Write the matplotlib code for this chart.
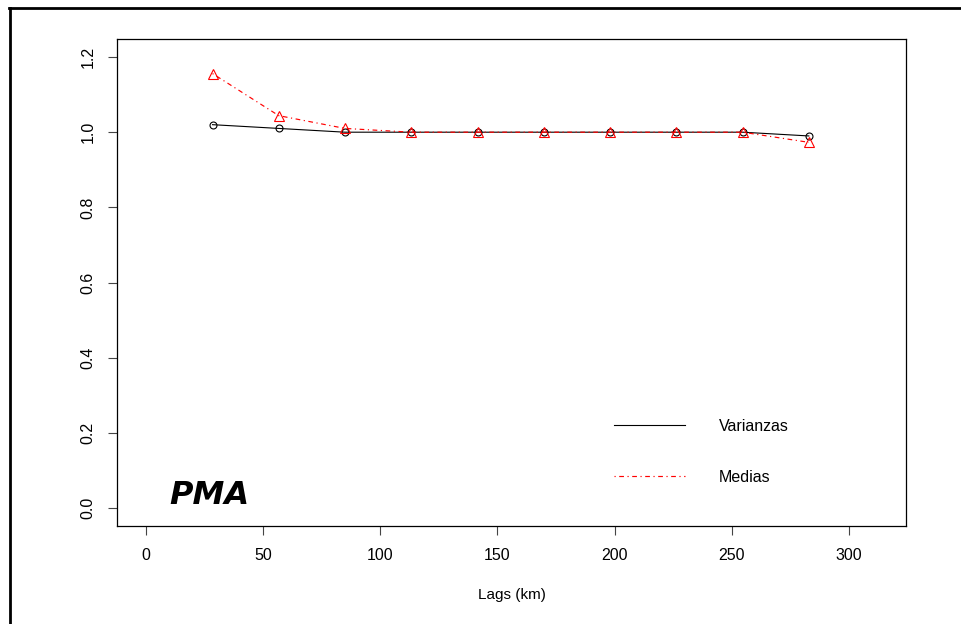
import matplotlib.pyplot as plt
from matplotlib.lines import Line2D

plt.rcParams['font.family'] = ['Liberation Sans', 'DejaVu Sans']

# semivariogram-like ratios per lag
lags = [28.3, 56.6, 84.9, 113.2, 141.5, 169.8, 198.1, 226.4, 254.7, 283.0]
varianzas = [1.020, 1.010, 1.000, 1.000, 1.000, 1.000, 1.000, 1.000, 1.000, 0.990]
medias = [1.156, 1.044, 1.010, 1.000, 1.000, 1.000, 1.000, 1.000, 1.000, 0.973]
xticks = [0, 50, 100, 150, 200, 250, 300]
yticks = [0.0, 0.2, 0.4, 0.6, 0.8, 1.0, 1.2]

W, H = 961, 624
fig = plt.figure(figsize=(W / 100, H / 100), dpi=100)
ax = fig.add_axes([117 / W, 98 / H, 789 / W, 487 / H])

dotdash = (0, (1, 3, 4, 3))
ax.plot(lags, varianzas, color='black', linewidth=0.8, marker='o', markersize=5,
        markerfacecolor='none', markeredgewidth=0.8)
ax.plot(lags, medias, color='red', linewidth=0.85, linestyle=dotdash, marker='^',
        markersize=7.5, markerfacecolor='none', markeredgewidth=0.8)

ax.set_xlim(-12.5, 324.5)
ax.set_ylim(-0.048, 1.248)
ax.set_xticks(xticks)
ax.set_xticklabels([str(v) for v in xticks])
ax.set_yticks(yticks)
ax.set_yticklabels(['%.1f' % v for v in yticks], rotation=90, va='center')
ax.tick_params(direction='out', length=6.5, width=0.8, color='#444444',
               labelsize=11.5, pad=9)
for s in ax.spines.values():
    s.set_linewidth(0.9)

ax.set_xlabel('Lags (km)', fontsize=11, labelpad=18)

ax.text(9.8, 0.010, 'PMA', fontsize=23, fontweight='bold', fontstyle='italic',
        family=['DejaVu Sans'], ha='left', va='baseline')

handles = [Line2D([], [], color='black', linewidth=0.8),
           Line2D([], [], color='red', linewidth=0.85, linestyle=dotdash)]
ax.legend(handles, ['Varianzas', 'Medias'], loc='center left',
          bbox_to_anchor=(0.63, 0.152), frameon=False, fontsize=11.5,
          handlelength=4.45, handletextpad=2.1, labelspacing=2.25,
          borderpad=0, borderaxespad=0)

# outer frame of the screenshot
fig.add_artist(Line2D([10 / W, 10 / W], [0, 1 - 7.5 / H], transform=fig.transFigure,
                      color='black', linewidth=2))
fig.add_artist(Line2D([9 / W, 1], [1 - 7.5 / H, 1 - 7.5 / H], transform=fig.transFigure,
                      color='black', linewidth=2))

fig.savefig('out.png', dpi=100)
